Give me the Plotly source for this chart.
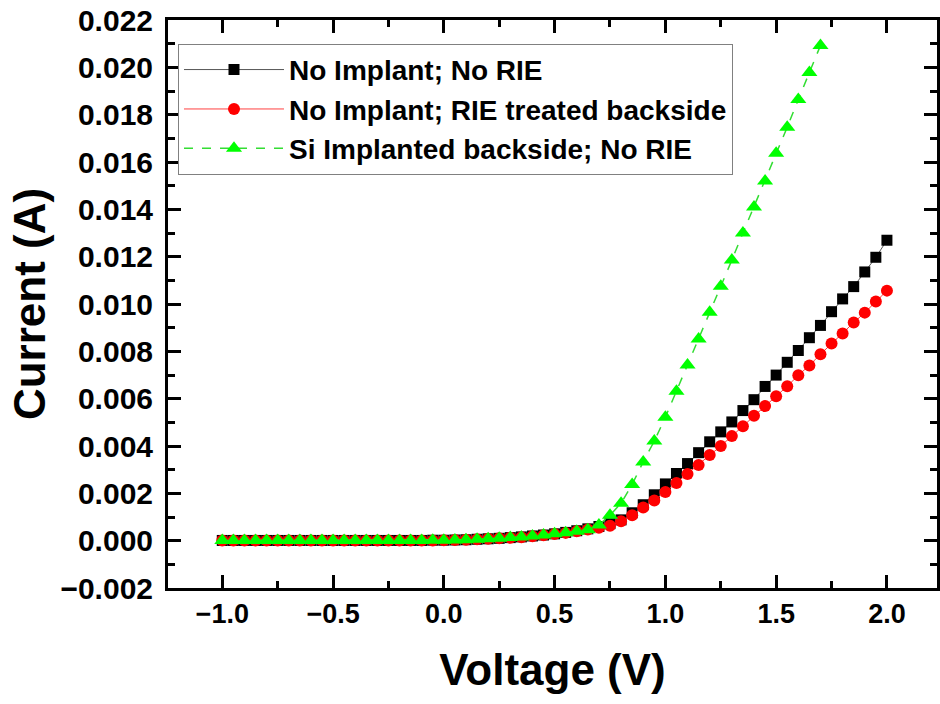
import plotly.graph_objects as go

voltage = [-1.0, -0.95, -0.9, -0.85, -0.8, -0.75, -0.7, -0.65, -0.6, -0.55,
           -0.5, -0.45, -0.4, -0.35, -0.3, -0.25, -0.2, -0.15, -0.1, -0.05,
           0.0, 0.05, 0.1, 0.15, 0.2, 0.25, 0.3, 0.35, 0.4, 0.45,
           0.5, 0.55, 0.6, 0.65, 0.7, 0.75, 0.8, 0.85, 0.9, 0.95,
           1.0, 1.05, 1.1, 1.15, 1.2, 1.25, 1.3, 1.35, 1.4, 1.45,
           1.5, 1.55, 1.6, 1.65, 1.7, 1.75, 1.8, 1.85, 1.9, 1.95,
           2.0]

no_implant_no_rie = [
    0.00001, 0.00001, 0.00001, 0.00001, 0.00001, 0.00001, 0.00001, 0.00001, 0.00001, 0.00001,
    0.00001, 0.00001, 0.00001, 0.00001, 0.00001, 0.00001, 0.00001, 0.00001, 0.00001, 0.00002,
    0.00002, 0.00003, 0.00004, 0.00006, 0.00008, 0.00010, 0.00013, 0.00016, 0.00020, 0.00024,
    0.00029, 0.00035, 0.00042, 0.00050, 0.00060, 0.00072, 0.00088, 0.00118, 0.00152, 0.00194,
    0.00240, 0.00284, 0.00326, 0.00372, 0.00418, 0.00460, 0.00502, 0.00550, 0.00596, 0.00652,
    0.00700, 0.00754, 0.00804, 0.00858, 0.00910, 0.00968, 0.01022, 0.01074, 0.01136, 0.01198,
    0.01270]

no_implant_rie = [
    0.00001, 0.00001, 0.00001, 0.00001, 0.00001, 0.00001, 0.00001, 0.00001, 0.00001, 0.00001,
    0.00001, 0.00001, 0.00001, 0.00001, 0.00001, 0.00001, 0.00001, 0.00001, 0.00001, 0.00001,
    0.00002, 0.00003, 0.00004, 0.00006, 0.00008, 0.00010, 0.00012, 0.00015, 0.00019, 0.00023,
    0.00028, 0.00033, 0.00040, 0.00047, 0.00055, 0.00063, 0.00082, 0.00108, 0.00140, 0.00170,
    0.00206, 0.00244, 0.00282, 0.00320, 0.00362, 0.00400, 0.00442, 0.00484, 0.00528, 0.00569,
    0.00611, 0.00653, 0.00699, 0.00741, 0.00788, 0.00834, 0.00876, 0.00922, 0.00964, 0.01011,
    0.01057]

si_implant_no_rie = [
    0.00001, 0.00001, 0.00001, 0.00001, 0.00001, 0.00001, 0.00001, 0.00001, 0.00001, 0.00001,
    0.00001, 0.00001, 0.00001, 0.00001, 0.00001, 0.00001, 0.00001, 0.00001, 0.00001, 0.00002,
    0.00002, 0.00003, 0.00004, 0.00006, 0.00008, 0.00010, 0.00013, 0.00016, 0.00020, 0.00024,
    0.00029, 0.00034, 0.00040, 0.00046, 0.00066, 0.00108, 0.00158, 0.00238, 0.00333, 0.00421,
    0.00522, 0.00632, 0.00743, 0.00853, 0.00966, 0.01076, 0.01186, 0.01301, 0.01411, 0.01520,
    0.01638, 0.01748, 0.01865, 0.01979, 0.02093]

series_names = ["No Implant; No RIE",
                "No Implant; RIE treated backside",
                "Si Implanted backside; No RIE"]

x_tick_vals = [-1.0, -0.5, 0.0, 0.5, 1.0, 1.5, 2.0]
y_tick_vals = [-0.002, 0.000, 0.002, 0.004, 0.006, 0.008, 0.010,
               0.012, 0.014, 0.016, 0.018, 0.020, 0.022]

FONT = "Liberation Sans, Arial, sans-serif"

fig = go.Figure()
fig.add_trace(go.Scatter(
    x=voltage, y=no_implant_no_rie, name=series_names[0],
    mode="lines+markers",
    line=dict(color="#555555", width=1),
    marker=dict(symbol="square", size=11, color="#000000", line=dict(width=0)),
))
fig.add_trace(go.Scatter(
    x=voltage, y=no_implant_rie, name=series_names[1],
    mode="lines+markers",
    line=dict(color="#ff4040", width=1),
    marker=dict(symbol="circle", size=12, color="#ff0000", line=dict(width=0)),
))
fig.add_trace(go.Scatter(
    x=voltage[:len(si_implant_no_rie)], y=si_implant_no_rie, name=series_names[2],
    mode="lines+markers",
    line=dict(color="#33dd33", width=1.5, dash="dash"),
    marker=dict(symbol="triangle-up", size=14, color="#00ff00", line=dict(width=0)),
))

axis_common = dict(
    showline=True, linecolor="black", linewidth=3, mirror="ticks",
    ticks="inside", ticklen=13, tickwidth=3, tickcolor="black",
    showgrid=False, zeroline=False, automargin=False,
    ticklabeloverflow="allow",
)

fig.update_layout(
    width=940, height=704,
    paper_bgcolor="white", plot_bgcolor="white",
    margin=dict(l=168, r=3, t=20, b=116),
    font=dict(family=FONT, color="black"),
    showlegend=True,
    legend=dict(
        x=0.013, y=0.958, xanchor="left", yanchor="top",
        bgcolor="white", bordercolor="#808080", borderwidth=1,
        font=dict(family=FONT, size=28, color="black", weight="bold"),
        itemwidth=100, tracegroupgap=0,
    ),
    xaxis=dict(
        range=[-1.245, 2.226],
        tickvals=x_tick_vals, tickformat=".1f",
        tickfont=dict(family=FONT, size=27, color="black", weight="bold"),
        minor=dict(ticks="inside", dtick=0.25, tick0=0, ticklen=7, tickwidth=3, tickcolor="black"),
        title=dict(text="Voltage (V)", standoff=26,
                   font=dict(family=FONT, size=44, color="black", weight="bold")),
        **axis_common,
    ),
    yaxis=dict(
        range=[-0.002, 0.02201],
        tickvals=y_tick_vals, tickformat=".3f",
        tickfont=dict(family=FONT, size=30, color="black", weight="bold"),
        minor=dict(ticks="inside", dtick=0.001, tick0=0, ticklen=7, tickwidth=3, tickcolor="black"),
        ticklabelstandoff=6,
        title=dict(text="Current (A)", standoff=2,
                   font=dict(family=FONT, size=44, color="black", weight="bold")),
        **axis_common,
    ),
)

# remove the browser's default 8px body margin so the figure sits at the page's corner
fig.write_html("out.html", config={"displayModeBar": False},
               post_script="document.body.style.margin='0';")
